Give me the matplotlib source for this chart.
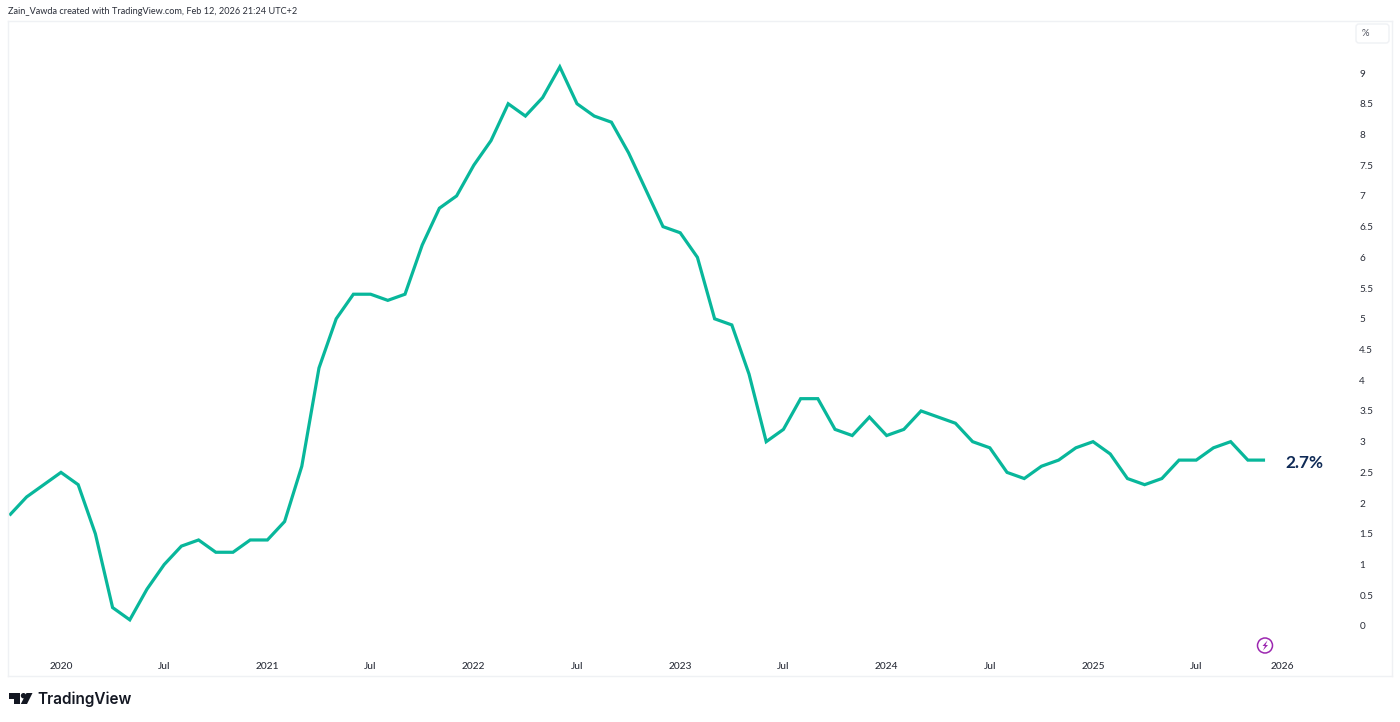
import matplotlib
matplotlib.use("Agg")
import matplotlib.pyplot as plt
from matplotlib.patches import Polygon, Ellipse, FancyBboxPatch
from matplotlib.transforms import IdentityTransform

values = [1.8, 2.1, 2.3, 2.5, 2.3, 1.5, 0.3, 0.1, 0.6, 1.0, 1.3, 1.4, 1.2, 1.2, 1.4,
          1.4, 1.7, 2.6, 4.2, 5.0, 5.4, 5.4, 5.3, 5.4, 6.2, 6.8, 7.0,
          7.5, 7.9, 8.5, 8.3, 8.6, 9.1, 8.5, 8.3, 8.2, 7.7, 7.1, 6.5,
          6.4, 6.0, 5.0, 4.9, 4.1, 3.0, 3.2, 3.7, 3.7, 3.2, 3.1, 3.4,
          3.1, 3.2, 3.5, 3.4, 3.3, 3.0, 2.9, 2.5, 2.4, 2.6, 2.7, 2.9,
          3.0, 2.8, 2.4, 2.3, 2.4, 2.7, 2.7, 2.9, 3.0, 2.7, 2.7]
first_index = -3
x_positions = list(range(first_index, first_index + len(values)))
x_ticks = [0, 6, 12, 18, 24, 30, 36, 42, 48, 54, 60, 66, 71]
x_labels = ["2020", "Jul", "2021", "Jul", "2022", "Jul", "2023", "Jul", "2024", "Jul", "2025", "Jul", "2026"]
y_ticks = [0, 0.5, 1, 1.5, 2, 2.5, 3, 3.5, 4, 4.5, 5, 5.5, 6, 6.5, 7, 7.5, 8, 8.5, 9]
y_labels = ["0", "0.5", "1", "1.5", "2", "2.5", "3", "3.5", "4", "4.5", "5", "5.5", "6", "6.5", "7", "7.5", "8", "8.5", "9"]
last_label = "2.7%"

W, H = 1400, 722
plt.rcParams["font.family"] = ["Lato", "DejaVu Sans"]

fig = plt.figure(figsize=(W / 100, H / 100), dpi=100, facecolor="white")
L, R, T, B = 8, 1392, 21, 676
ax = fig.add_axes([L / W, 1 - B / H, (R - L) / W, (B - T) / H])
ax.set_xlim(-3.08, 77.38)
ax.set_ylim(-0.814, 9.847)

ax.plot(x_positions, values, color="#08B79B", lw=2.3, solid_joinstyle="miter", solid_capstyle="butt")

for s in ax.spines.values():
    s.set_color("#EFF1F4")
    s.set_linewidth(1)

ax.set_xticks(x_ticks)
ax.set_xticklabels(x_labels, fontsize=7.3, color="#2A2E39", fontweight="medium")
ax.tick_params(axis="x", length=0, pad=-9.8)
ax.yaxis.tick_right()
ax.set_yticks(y_ticks)
ax.set_yticklabels(y_labels, fontsize=7.2, color="#2A2E39")
ax.tick_params(axis="y", length=0, pad=-23.5)

px = fig.transFigure
def P(x, y):
    return (x / W, 1 - y / H)

fig.text(*P(8, 11.5), "Zain_Vawda created with TradingView.com, Feb 12, 2026 21:24 UTC+2",
         fontsize=6.6, color="#2A2E39", va="center", ha="left")

fig.text(*P(1285, 462.5), last_label, fontsize=12.4, fontweight="bold", color="#0F2A56", va="center", ha="left")

# percent button
fig.add_artist(FancyBboxPatch((1358, H - 41), 29, 15, boxstyle="round,pad=2,rounding_size=3",
                              transform=IdentityTransform(), fc="white", ec="#EFF1F4", lw=1))
fig.text(*P(1365, 34), "%", fontsize=6.8, color="#50535E", ha="center", va="center")

# bolt icon
fig.add_artist(Ellipse(P(1265, 645.5), 15 / W, 15 / H, transform=px, fc="white", ec="#9C27B0", lw=1.1))
fig.add_artist(Polygon([P(1267.5, 640.5), P(1262.5, 646), P(1265, 646), P(1263, 650.5), P(1268, 645), P(1265.5, 645)],
                       closed=True, transform=px, fc="#9C27B0", ec="none"))

# logo
k = "#131722"
fig.add_artist(Polygon([P(9, 693), P(20, 693), P(20, 704), P(14.5, 704), P(14.5, 698.5), P(9, 698.5)],
                       closed=True, transform=px, fc=k, ec="none"))
fig.add_artist(Ellipse(P(23.5, 695.7), 5.4 / W, 5.4 / H, transform=px, fc=k, ec="none"))
fig.add_artist(Polygon([P(26.5, 693), P(32.5, 693), P(27, 704), P(20.8, 704)],
                       closed=True, transform=px, fc=k, ec="none"))
fig.text(*P(37, 699.5), "TradingView", fontsize=11, fontweight="semibold", family=["Inter", "DejaVu Sans"],
         color=k, va="center", ha="left")

fig.savefig("out.png", dpi=100, facecolor="white")
